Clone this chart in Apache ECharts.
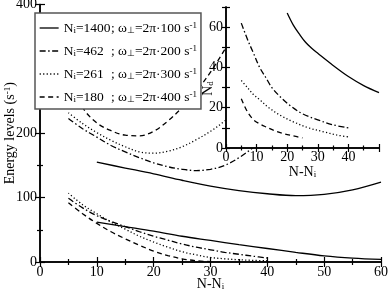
<!DOCTYPE html>
<html><head><meta charset="utf-8">
<script src="https://cdn.jsdelivr.net/npm/echarts@6/dist/echarts.min.js"></script>
<style>html,body{margin:0;padding:0;background:#fff}#c{width:388px;height:300px}</style>
</head><body><div id="c"></div>
<script>
// ---- legend / categories ----
const NiValues = ['1400', '462', '261', '180'];
const omegaValues = ['100', '200', '300', '400'];

// ---- main plot tick labels ----
const mainXTicks = [0, 10, 20, 30, 40, 50, 60];
const mainXLabels = ['0', '10', '20', '30', '40', '50', '60'];
const mainYTicks = [0, 100, 200, 300, 400];
const mainYLabels = ['0', '100', '200', '', '400'];

// ---- inset tick labels ----
const insetXTicks = [0, 10, 20, 30, 40, 50];
const insetXLabels = ['0', '10', '20', '30', '40', ''];
const insetYTicks = [0, 10, 20, 30, 40, 50, 60, 70];
const insetYLabels = ['0', '', '20', '', '40', '', '60', ''];

// ---- main plot data: N-Ni vs energy levels ----
// Ni = 1400 (solid)
const solidX = [10, 15, 20, 25, 30, 35, 40, 45, 50, 55, 60];
const solidUpperY = [155, 146, 137, 127, 118, 111, 106, 103, 105, 112, 124];
const solidLowerY = [62, 55, 48, 40, 33.5, 27, 21, 15, 9.5, 6, 4];
// Ni = 462 (dash-dot)
const dashDotUpperX = [5, 7.5, 10, 12.5, 15, 17.5, 20, 22.5, 25, 27.5, 30, 32.5, 35, 37.5, 40];
const dashDotUpperY = [223, 207, 194, 181, 171, 162, 154, 148, 144, 142, 144, 150, 162, 178, 198];
const dashDotLowerX = [5, 7.5, 10, 12.5, 15, 17.5, 20, 22.5, 25, 27.5, 30, 32.5, 35, 37.5, 40];
const dashDotLowerY = [99, 84, 72, 63, 55, 47, 40, 34, 28, 23, 19, 15, 12, 9, 6];
// Ni = 261 (dotted)
const dottedUpperX = [5, 7.5, 10, 12.5, 15, 17.5, 20, 22.5, 25, 27.5, 30, 32.5, 35];
const dottedUpperY = [232, 215, 201, 189, 179, 171, 169, 172, 179, 190, 203, 219, 238];
const dottedLowerX = [5, 7.5, 10, 12.5, 15, 17.5, 20, 22.5, 25, 27.5, 30, 32.5, 35, 37.5, 40];
const dottedLowerY = [107, 89, 75, 62, 51, 40, 31, 23, 16, 11, 7, 5, 3.5, 2.5, 2];
// Ni = 180 (dashed)
const dashedUpperX = [5, 7.5, 10, 12.5, 15, 17.5, 20, 22.5, 25, 27.5, 30, 32.5, 35];
const dashedUpperY = [290, 240, 216, 204, 197, 196, 203, 219, 240, 265, 295, 330, 370];
const dashedLowerX = [5, 7.5, 10, 12.5, 15, 17.5, 20, 22.5, 25, 27.5, 30];
const dashedLowerY = [92, 75, 60, 47, 36, 26, 17, 10, 5, 2, 0.5];

// ---- inset data: N-Ni vs N_d ----
const insetSolidX = [20, 22, 24, 26, 28, 30, 35, 40, 45, 50];
const insetSolidY = [67, 61, 56.5, 52.5, 49.5, 47, 41, 35.5, 31, 27.5];
const insetDashDotX = [5, 7, 9, 11, 13, 15, 18, 21, 25, 30, 35, 40];
const insetDashDotY = [62, 54, 47, 40, 35, 30, 25, 21, 17, 14, 11.5, 10];
const insetDottedX = [5, 7, 9, 11, 14, 18, 22, 27, 32, 36, 40];
const insetDottedY = [33.5, 30, 26.5, 24, 20, 16, 13, 10, 8, 6.5, 5.5];
const insetDashedX = [5, 7, 9, 11, 13, 16, 19, 22, 25];
const insetDashedY = [24.5, 18, 14, 12, 10.5, 8.5, 7, 6, 5];

const FONT = 'Liberation Serif';
const dashStyles = {
  '1400': 'solid',
  '462': [6, 2.5, 1.5, 2.5],
  '261': [1.2, 2.3],
  '180': [5, 3.5]
};

const rich = {
  t: { fontFamily: FONT, fontSize: 14, color: '#000' },
  s: { fontFamily: FONT, fontSize: 9, color: '#000', verticalAlign: 'bottom' },
  p: { fontFamily: FONT, fontSize: 9, color: '#000', verticalAlign: 'top' }
};
const legendRich = {
  t: { fontFamily: FONT, fontSize: 13.5, color: '#000' },
  s: { fontFamily: FONT, fontSize: 9, color: '#000', verticalAlign: 'bottom' },
  p: { fontFamily: FONT, fontSize: 9, color: '#000', verticalAlign: 'top' },
  nw: { fontFamily: FONT, fontSize: 13.5, color: '#000', width: 35 }
};

function pts(xs, ys) { return xs.map((x, i) => [x, ys[i]]); }
function line(name, xs, ys, xi, yi, z) {
  return {
    type: 'line', name: name, data: pts(xs, ys), xAxisIndex: xi, yAxisIndex: yi,
    symbol: 'none', smooth: 0.35, z: z, silent: true, animation: false,
    color: '#000', itemStyle: { color: '#000' },
    lineStyle: { color: '#000', width: 1.3, type: dashStyles[name] }
  };
}
function labelFrom(ticks, labels) {
  return function (v) { const i = ticks.indexOf(v); return i >= 0 ? labels[i] : ''; };
}

const axisLine = { show: true, lineStyle: { color: '#000', width: 1.5 } };
const tick = { show: true, inside: true, length: 5, lineStyle: { color: '#000', width: 1.2 } };
const minor = { show: true, splitNumber: 2, length: 3, lineStyle: { color: '#000', width: 1.2 } };
const lblStyle = { fontFamily: FONT, fontSize: 14, color: '#000' };

const option = {
  animation: false,
  backgroundColor: '#fff',
  grid: [
    { left: 40, right: 7, top: 4.5, bottom: 38, outerBoundsMode: 'none', containLabel: false },
    { left: 226, right: 9, top: 7, bottom: 152, outerBoundsMode: 'none', containLabel: false,
      show: true, backgroundColor: '#fff', borderWidth: 0, z: 3 }
  ],
  legend: {
    data: NiValues, orient: 'vertical', left: 35, top: 13,
    padding: [8, 4, 5, 4], itemGap: 9, itemWidth: 19, itemHeight: 14,
    backgroundColor: '#fff', borderColor: '#555', borderWidth: 1.5, borderRadius: 0,
    selectedMode: false,
    itemStyle: { color: 'rgba(0,0,0,0)', borderWidth: 0, opacity: 0 },
    lineStyle: { color: '#000', width: 1.3 },
    formatter: function (name) {
      const i = NiValues.indexOf(name);
      return '{t|N}{s|i}{nw|=' + NiValues[i] + '}{t|; ω}{s|⊥}{t|=2π·' + omegaValues[i] + ' s}{p|-1}';
    },
    textStyle: { fontFamily: FONT, fontSize: 13.5, color: '#000', rich: legendRich }
  },
  xAxis: [
    { gridIndex: 0, type: 'value', min: 0, max: 60, interval: 10, position: 'bottom',
      axisLine: axisLine, axisTick: tick, minorTick: minor, splitLine: { show: false },
      axisLabel: { ...lblStyle, margin: 3, formatter: labelFrom(mainXTicks, mainXLabels) },
      name: '{t|N-N}{s|i}', nameLocation: 'middle', nameGap: 15, nameMoveOverlap: false,
      nameTextStyle: { rich: rich } },
    { gridIndex: 0, type: 'value', min: 0, max: 60, interval: 10, position: 'top',
      axisLine: axisLine, axisTick: tick, minorTick: minor, splitLine: { show: false },
      axisLabel: { show: false } },
    { gridIndex: 1, type: 'value', min: 0, max: 50, interval: 10, position: 'bottom', z: 5,
      axisLine: axisLine, axisTick: { ...tick, length: 4 }, minorTick: { ...minor, length: 2.5 }, splitLine: { show: false },
      axisLabel: { ...lblStyle, margin: 2, formatter: labelFrom(insetXTicks, insetXLabels) },
      name: '{t|N-N}{s|i}', nameLocation: 'middle', nameGap: 17, nameMoveOverlap: false,
      nameTextStyle: { rich: rich } },
    { gridIndex: 1, type: 'value', min: 0, max: 50, interval: 10, position: 'top', z: 5,
      axisLine: axisLine, axisTick: { ...tick, length: 4 }, minorTick: { ...minor, length: 2.5 }, splitLine: { show: false },
      axisLabel: { show: false } }
  ],
  yAxis: [
    { gridIndex: 0, type: 'value', min: 0, max: 400, interval: 100, position: 'left',
      axisLine: axisLine, axisTick: tick, minorTick: minor, splitLine: { show: false },
      axisLabel: { ...lblStyle, margin: 3, hideOverlap: false, formatter: labelFrom(mainYTicks, mainYLabels) },
      name: '{t|Energy levels (s}{p|-1}{t|)}', nameLocation: 'middle', nameGap: 23, nameMoveOverlap: false,
      nameTextStyle: { rich: rich } },
    { gridIndex: 0, type: 'value', min: 0, max: 400, interval: 100, position: 'right',
      axisLine: axisLine, axisTick: tick, minorTick: minor, splitLine: { show: false },
      axisLabel: { show: false } },
    { gridIndex: 1, type: 'value', min: 0, max: 70, interval: 10, position: 'left', z: 5,
      axisLine: axisLine, axisTick: { ...tick, length: 4 }, minorTick: { show: false }, splitLine: { show: false },
      axisLabel: { ...lblStyle, margin: 3, formatter: labelFrom(insetYTicks, insetYLabels) },
      name: '{t|N}{s|d}', nameLocation: 'middle', nameGap: 11, nameMoveOverlap: false,
      nameTextStyle: { rich: rich, padding: [0, 22, 0, 0] } },
    { gridIndex: 1, type: 'value', min: 0, max: 70, interval: 10, position: 'right', z: 5,
      axisLine: axisLine, axisTick: { ...tick, length: 4 }, minorTick: { show: false }, splitLine: { show: false },
      axisLabel: { show: false } }
  ],
  series: [
    line('1400', solidX, solidUpperY, 0, 0, 2),
    line('1400', solidX, solidLowerY, 0, 0, 2),
    line('462', dashDotUpperX, dashDotUpperY, 0, 0, 2),
    line('462', dashDotLowerX, dashDotLowerY, 0, 0, 2),
    line('261', dottedUpperX, dottedUpperY, 0, 0, 2),
    line('261', dottedLowerX, dottedLowerY, 0, 0, 2),
    line('180', dashedUpperX, dashedUpperY, 0, 0, 2),
    line('180', dashedLowerX, dashedLowerY, 0, 0, 2),
    line('1400', insetSolidX, insetSolidY, 2, 2, 4),
    line('462', insetDashDotX, insetDashDotY, 2, 2, 4),
    line('261', insetDottedX, insetDottedY, 2, 2, 4),
    line('180', insetDashedX, insetDashedY, 2, 2, 4)
  ]
};

const chart = echarts.init(document.getElementById('c'), null, { renderer: 'canvas' });
chart.setOption(option);
</script>
</body></html>
